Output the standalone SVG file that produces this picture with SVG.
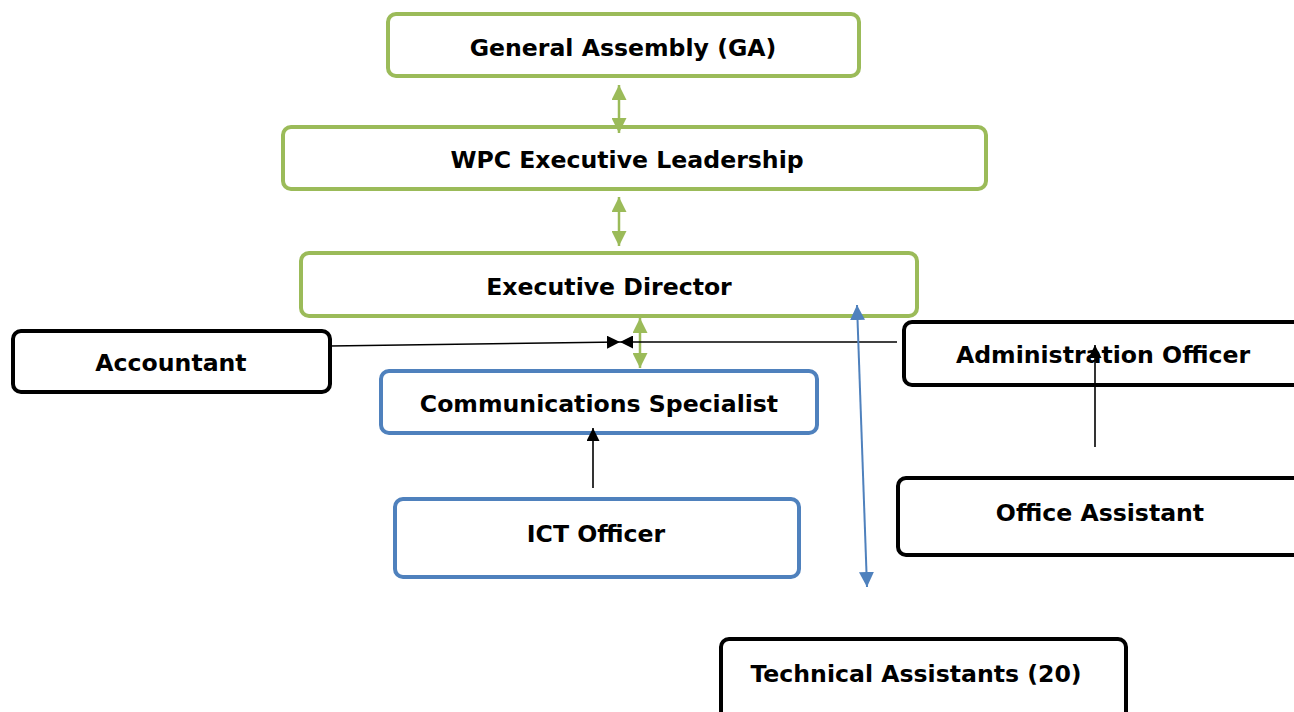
<svg xmlns="http://www.w3.org/2000/svg" width="1294" height="712" viewBox="0 0 1294 712">
  <style>
    .box { fill: #ffffff; stroke-width: 4; }
    .green { stroke: #9bbb59; }
    .blue { stroke: #4f81bd; }
    .black { stroke: #000000; }
    .label { font-family: "DejaVu Sans", Verdana, sans-serif; font-weight: bold; font-size: 23.6px; fill: #000000; text-anchor: middle; }
    .lg { stroke: #9bbb59; stroke-width: 2.5; fill: none; }
    .lb { stroke: #4f81bd; stroke-width: 2; fill: none; }
    .lk { stroke: #000000; stroke-width: 1.6; fill: none; }
  </style>
  <defs>
    <marker id="ag" viewBox="0 0 10 10" refX="10" refY="5" markerWidth="15" markerHeight="15" markerUnits="userSpaceOnUse" orient="auto-start-reverse">
      <path d="M0,0 L10,5 L0,10 z" fill="#9bbb59"/>
    </marker>
    <marker id="ab" viewBox="0 0 10 10" refX="10" refY="5" markerWidth="15" markerHeight="15" markerUnits="userSpaceOnUse" orient="auto-start-reverse">
      <path d="M0,0 L10,5 L0,10 z" fill="#4f81bd"/>
    </marker>
    <marker id="ak" viewBox="0 0 10 10" refX="10" refY="5" markerWidth="13" markerHeight="13" markerUnits="userSpaceOnUse" orient="auto">
      <path d="M0,0 L10,5 L0,10 z" fill="#000000"/>
    </marker>
  </defs>

  <g id="general-assembly">
    <rect class="box green" x="388" y="14" width="471" height="62" rx="8"/>
    <text class="label" x="623" y="56">General Assembly (GA)</text>
  </g>
  <g id="wpc-executive-leadership">
    <rect class="box green" x="283" y="127" width="703" height="62" rx="8"/>
    <text class="label" x="627" y="168">WPC Executive Leadership</text>
  </g>
  <g id="executive-director">
    <rect class="box green" x="301" y="253" width="616" height="63" rx="8"/>
    <text class="label" x="609" y="295">Executive Director</text>
  </g>
  <g id="accountant">
    <rect class="box black" x="13" y="331" width="317" height="61" rx="8"/>
    <text class="label" x="171" y="371">Accountant</text>
  </g>
  <g id="communications-specialist">
    <rect class="box blue" x="381" y="371" width="436" height="62" rx="8"/>
    <text class="label" x="599" y="412">Communications Specialist</text>
  </g>
  <g id="administration-officer">
    <rect class="box black" x="904" y="322" width="400" height="63" rx="8"/>
    <text class="label" x="1103" y="363">Administration Officer</text>
  </g>
  <g id="ict-officer">
    <rect class="box blue" x="395" y="499" width="404" height="78" rx="8"/>
    <text class="label" x="596" y="542">ICT Officer</text>
  </g>
  <g id="office-assistant">
    <rect class="box black" x="898" y="478" width="406" height="77" rx="8"/>
    <text class="label" x="1100" y="521">Office Assistant</text>
  </g>
  <g id="technical-assistants">
    <rect class="box black" x="721" y="639" width="405" height="90" rx="8"/>
    <text class="label" x="916" y="682">Technical Assistants (20)</text>
  </g>

  <!-- connectors, drawn over the boxes -->
  <g id="connectors">
    <line class="lg" x1="619" y1="85" x2="619" y2="133" marker-start="url(#ag)" marker-end="url(#ag)"/>
    <line class="lg" x1="619" y1="197" x2="619" y2="246" marker-start="url(#ag)" marker-end="url(#ag)"/>
    <line class="lg" x1="640" y1="318" x2="640" y2="368" marker-start="url(#ag)" marker-end="url(#ag)"/>
    <line class="lk" x1="330" y1="346" x2="620" y2="342" marker-end="url(#ak)"/>
    <line class="lk" x1="897" y1="342" x2="620" y2="342" marker-end="url(#ak)"/>
    <line class="lb" x1="857" y1="305" x2="867" y2="587" marker-start="url(#ab)" marker-end="url(#ab)"/>
    <line class="lk" x1="1095" y1="447" x2="1095" y2="345" marker-end="url(#ak)"/>
    <line class="lk" x1="593" y1="488" x2="593" y2="428" marker-end="url(#ak)"/>
  </g>
</svg>
